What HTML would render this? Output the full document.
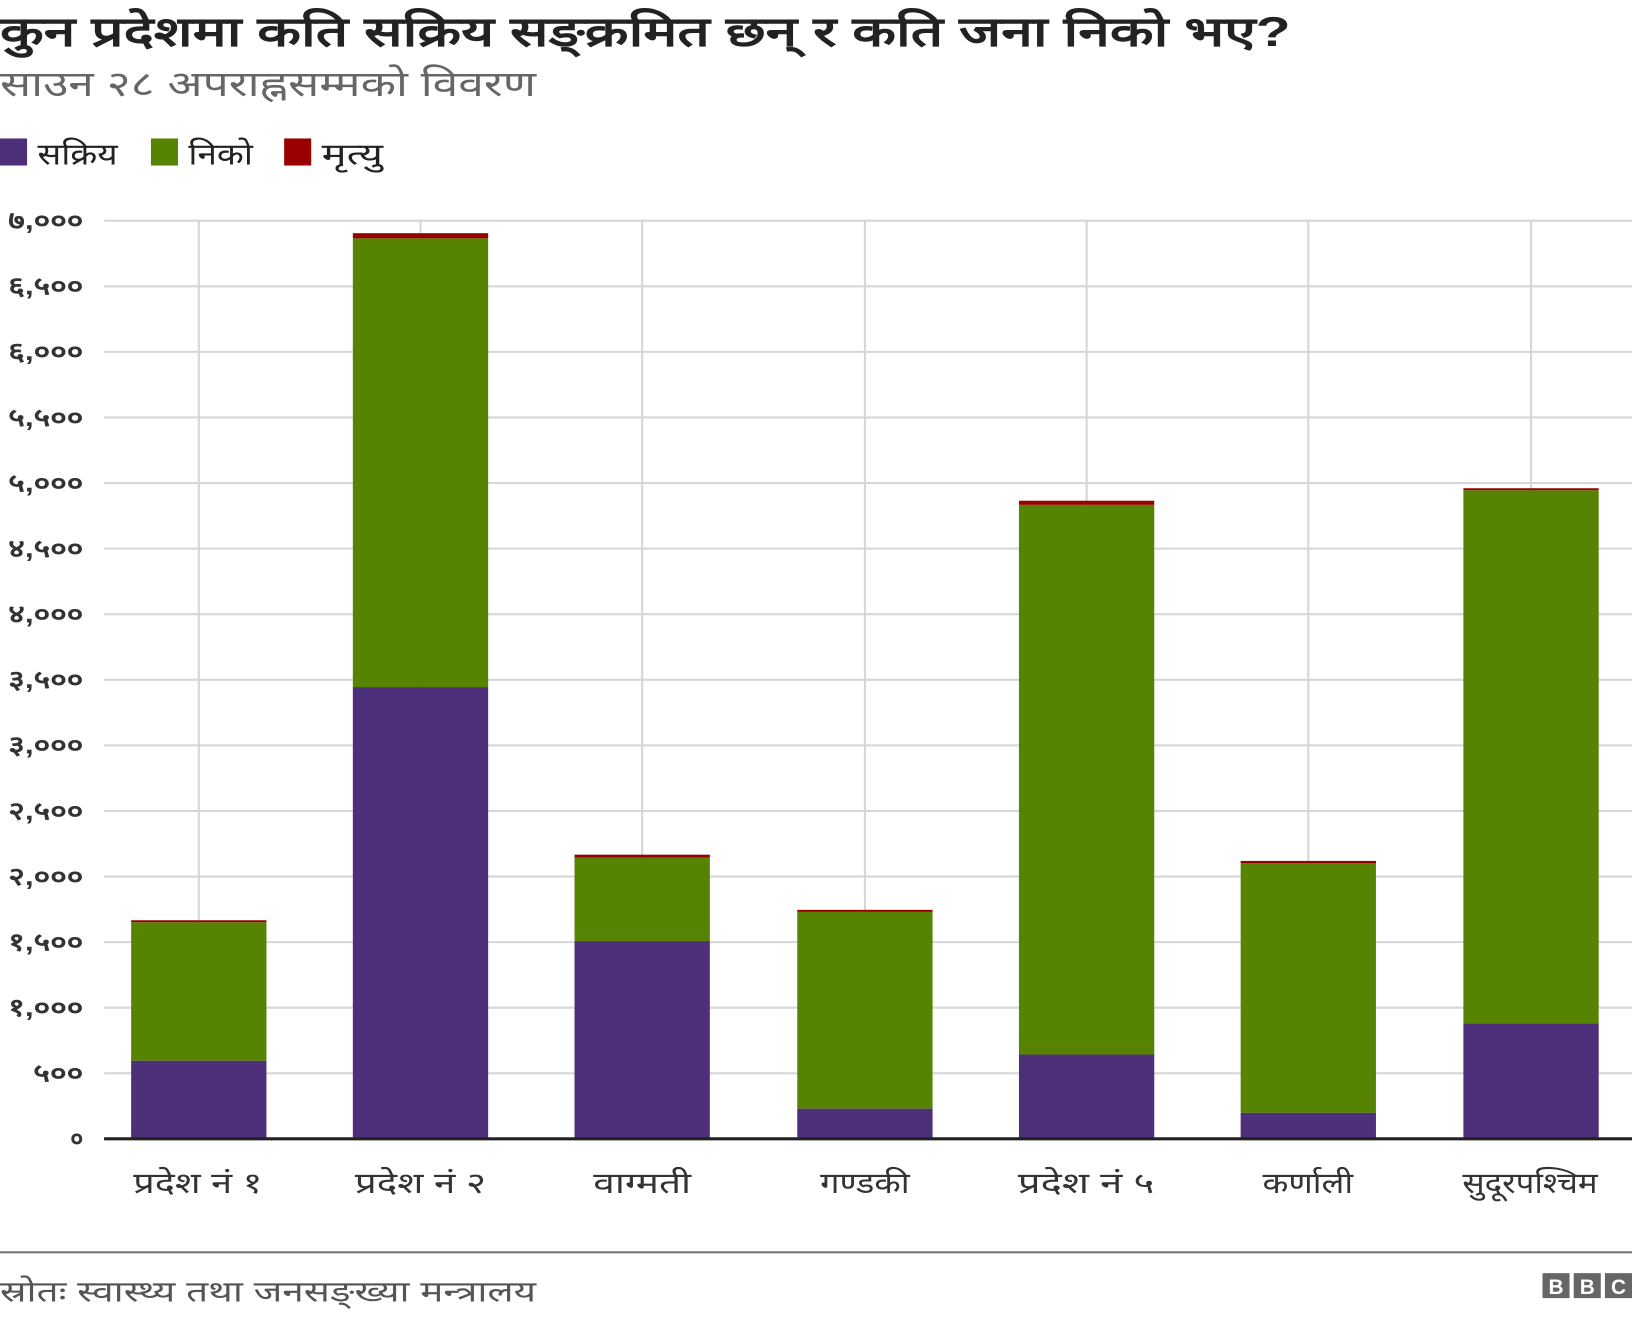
<!DOCTYPE html>
<html><head><meta charset="utf-8"><style>
html,body{margin:0;padding:0;background:#fff;width:1632px;height:1320px;overflow:hidden}
svg{display:block}
text{font-family:"Liberation Sans","Noto Sans CJK SC",sans-serif}
</style></head><body>
<svg width="1632" height="1320" viewBox="0 0 1568 1268" preserveAspectRatio="none" xmlns="http://www.w3.org/2000/svg">
<text x="0" y="44" font-size="40" font-weight="bold" fill="#222" textLength="1240" lengthAdjust="spacingAndGlyphs">कुन प्रदेशमा कति सक्रिय सङ्क्रमित छन् र कति जना निको भए?</text>
<text x="0" y="92" font-size="34" fill="#666" textLength="515" lengthAdjust="spacingAndGlyphs">साउन २८ अपराह्नसम्मको विवरण</text>
<rect x="0" y="133" width="26" height="26" fill="#4e2f79"/>
<text x="36" y="158" font-size="29" fill="#222" textLength="77" lengthAdjust="spacingAndGlyphs">सक्रिय</text>
<rect x="145" y="133" width="26" height="26" fill="#578302"/>
<text x="181" y="158" font-size="29" fill="#222" textLength="62" lengthAdjust="spacingAndGlyphs">निको</text>
<rect x="273" y="133" width="26" height="26" fill="#990000"/>
<text x="309" y="158" font-size="29" fill="#222" textLength="59" lengthAdjust="spacingAndGlyphs">मृत्यु</text>
<g stroke="#d6d6d6" stroke-width="2">
<line x1="100" y1="212" x2="1568" y2="212"/><line x1="100" y1="275" x2="1568" y2="275"/>
<line x1="100" y1="338" x2="1568" y2="338"/><line x1="100" y1="401" x2="1568" y2="401"/>
<line x1="100" y1="464" x2="1568" y2="464"/><line x1="100" y1="527" x2="1568" y2="527"/>
<line x1="100" y1="590" x2="1568" y2="590"/><line x1="100" y1="653" x2="1568" y2="653"/>
<line x1="100" y1="716" x2="1568" y2="716"/><line x1="100" y1="779" x2="1568" y2="779"/>
<line x1="100" y1="842" x2="1568" y2="842"/><line x1="100" y1="905" x2="1568" y2="905"/>
<line x1="100" y1="968" x2="1568" y2="968"/><line x1="100" y1="1031" x2="1568" y2="1031"/>
<line x1="191" y1="212" x2="191" y2="1094"/><line x1="404" y1="212" x2="404" y2="1094"/>
<line x1="617" y1="212" x2="617" y2="1094"/><line x1="831" y1="212" x2="831" y2="1094"/>
<line x1="1044" y1="212" x2="1044" y2="1094"/><line x1="1257" y1="212" x2="1257" y2="1094"/>
<line x1="1471" y1="212" x2="1471" y2="1094"/>
</g>
<g font-size="24" font-weight="bold" fill="#333" text-anchor="end">
<text x="80" y="220" textLength="72" lengthAdjust="spacingAndGlyphs">७,०००</text><text x="80" y="283" textLength="72" lengthAdjust="spacingAndGlyphs">६,५००</text><text x="80" y="346" textLength="72" lengthAdjust="spacingAndGlyphs">६,०००</text>
<text x="80" y="409" textLength="72" lengthAdjust="spacingAndGlyphs">५,५००</text><text x="80" y="472" textLength="72" lengthAdjust="spacingAndGlyphs">५,०००</text><text x="80" y="535" textLength="72" lengthAdjust="spacingAndGlyphs">४,५००</text>
<text x="80" y="598" textLength="72" lengthAdjust="spacingAndGlyphs">४,०००</text><text x="80" y="661" textLength="72" lengthAdjust="spacingAndGlyphs">३,५००</text><text x="80" y="724" textLength="72" lengthAdjust="spacingAndGlyphs">३,०००</text>
<text x="80" y="787" textLength="72" lengthAdjust="spacingAndGlyphs">२,५००</text><text x="80" y="850" textLength="72" lengthAdjust="spacingAndGlyphs">२,०००</text><text x="80" y="913" textLength="72" lengthAdjust="spacingAndGlyphs">१,५००</text>
<text x="80" y="976" textLength="72" lengthAdjust="spacingAndGlyphs">१,०००</text><text x="80" y="1039" textLength="48" lengthAdjust="spacingAndGlyphs">५००</text><text x="80" y="1102">०</text>
</g>
<g>
<rect x="126" y="884" width="130" height="2" fill="#990000"/><rect x="126" y="886" width="130" height="133" fill="#578302"/><rect x="126" y="1019" width="130" height="75" fill="#4e2f79"/>
<rect x="339" y="224" width="130" height="5" fill="#990000"/><rect x="339" y="229" width="130" height="431" fill="#578302"/><rect x="339" y="660" width="130" height="434" fill="#4e2f79"/>
<rect x="552" y="821" width="130" height="3" fill="#990000"/><rect x="552" y="824" width="130" height="80" fill="#578302"/><rect x="552" y="904" width="130" height="190" fill="#4e2f79"/>
<rect x="766" y="874" width="130" height="2" fill="#990000"/><rect x="766" y="876" width="130" height="189" fill="#578302"/><rect x="766" y="1065" width="130" height="29" fill="#4e2f79"/>
<rect x="979" y="481" width="130" height="4" fill="#990000"/><rect x="979" y="485" width="130" height="528" fill="#578302"/><rect x="979" y="1013" width="130" height="81" fill="#4e2f79"/>
<rect x="1192" y="827" width="130" height="2" fill="#990000"/><rect x="1192" y="829" width="130" height="240" fill="#578302"/><rect x="1192" y="1069" width="130" height="25" fill="#4e2f79"/>
<rect x="1406" y="469" width="130" height="2" fill="#990000"/><rect x="1406" y="471" width="130" height="512" fill="#578302"/><rect x="1406" y="983" width="130" height="111" fill="#4e2f79"/>
</g>
<line x1="100" y1="1094" x2="1568" y2="1094" stroke="#222" stroke-width="3"/>
<g font-size="28" fill="#333">
<text x="128" y="1146" textLength="124" lengthAdjust="spacingAndGlyphs">प्रदेश नं १</text>
<text x="341" y="1146" textLength="126" lengthAdjust="spacingAndGlyphs">प्रदेश नं २</text>
<text x="570" y="1146" textLength="94" lengthAdjust="spacingAndGlyphs">वाग्मती</text>
<text x="788" y="1146" textLength="86" lengthAdjust="spacingAndGlyphs">गण्डकी</text>
<text x="978" y="1146" textLength="131" lengthAdjust="spacingAndGlyphs">प्रदेश नं ५</text>
<text x="1213" y="1146" textLength="87" lengthAdjust="spacingAndGlyphs">कर्णाली</text>
<text x="1405" y="1146" textLength="130" lengthAdjust="spacingAndGlyphs">सुदूरपश्चिम</text>
</g>
<line x1="0" y1="1203" x2="1568" y2="1203" stroke="#777" stroke-width="2"/>
<text x="0" y="1250" font-size="28" fill="#555" textLength="515" lengthAdjust="spacingAndGlyphs">स्रोतः स्वास्थ्य तथा जनसङ्ख्या मन्त्रालय</text>
<g>
<rect x="1482" y="1223" width="26" height="24" fill="#666"/><rect x="1512" y="1223" width="26" height="24" fill="#666"/><rect x="1542" y="1223" width="26" height="24" fill="#666"/>
<g font-size="20" font-weight="bold" fill="#fff" text-anchor="middle">
<text x="1495" y="1243">B</text><text x="1525" y="1243">B</text><text x="1555" y="1243">C</text></g>
</g>
</svg>
</body></html>
